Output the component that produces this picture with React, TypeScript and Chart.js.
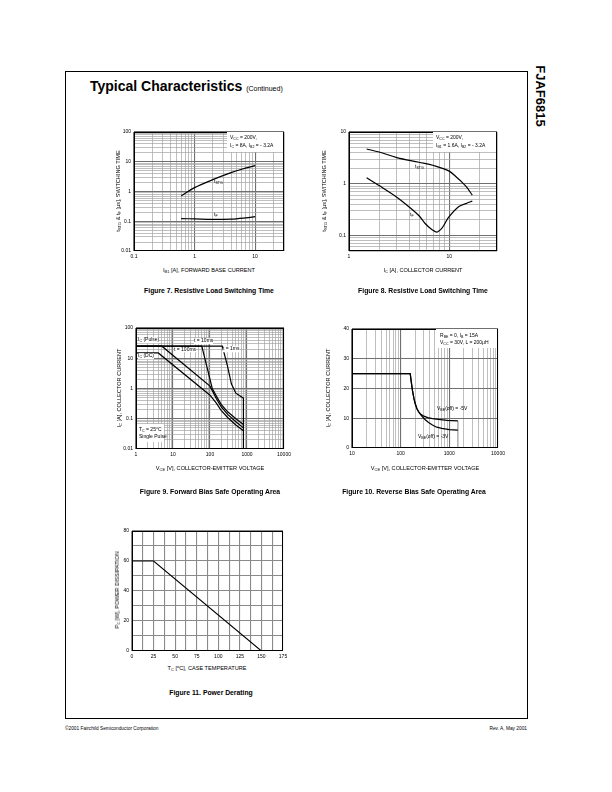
import React, { useEffect, useRef } from "react";
import { Chart, registerables } from "chart.js";
Chart.register(...registerables);

const FONT = '"Liberation Sans", Arial, Helvetica, sans-serif';
const PADL = 22, PADT = 5, PADR = 10, PADB = 12;

// ---------- Figure 7: switching time vs IB1 ----------
const fig7IbStg = [0.6, 1, 2, 4, 6, 10];
const fig7Tstg = [0.72, 1.35, 2.5, 4.3, 5.6, 7.4];
const fig7IbF = [0.6, 1, 2, 4, 7, 10];
const fig7Tf = [0.123, 0.12, 0.115, 0.118, 0.13, 0.142];

// ---------- Figure 8: switching time vs IC ----------
const fig8IcStg = [1.5, 2, 3, 5, 7, 10, 12, 13.4, 15, 17];
const fig8Tstg = [4.7, 4.1, 3.2, 2.6, 2.25, 1.75, 1.3, 1.07, 0.85, 0.6];
const fig8IcF = [1.5, 2, 3, 4.1, 5, 5.75, 6.7, 7.5, 8.5, 9.8, 12.4, 15, 17];
const fig8Tf = [1.3, 0.92, 0.55, 0.34, 0.24, 0.17, 0.13, 0.116, 0.14, 0.22, 0.36, 0.42, 0.46];

// ---------- Figure 9: FBSOA ----------
const fig9V1ms = [1, 215, 295, 380, 500, 800, 800];
const fig9I1ms = [25, 25, 5.7, 1.4, 0.7, 0.48, 0.01];
const fig9V10ms = [1, 60, 115, 150, 200, 300, 500, 800];
const fig9I10ms = [25, 25, 1.0, 0.55, 0.3, 0.17, 0.1, 0.065];
const fig9V100ms = [1, 5, 100, 150, 200, 300, 500, 800];
const fig9I100ms = [25, 25, 1.2, 0.45, 0.25, 0.14, 0.08, 0.05];
const fig9VDc = [1, 4, 100, 150, 200, 300, 500, 800];
const fig9IDc = [15, 15, 0.6, 0.32, 0.19, 0.11, 0.062, 0.04];

// ---------- Figure 10: RBSOA ----------
const fig10V5 = [10, 157, 166, 176, 188, 200, 216, 235, 260, 300, 360, 450, 600, 900, 1500];
const fig10I5 = [25, 25, 22, 19, 16.5, 14.8, 13.2, 12.1, 11.3, 10.7, 10.2, 9.9, 9.6, 9.3, 9.1];
const fig10V3 = [10, 157, 166, 176, 188, 200, 216, 235, 250, 280, 320, 374, 450, 550, 700, 1000, 1500];
const fig10I3 = [25, 25, 22, 19, 16.5, 14.8, 13.2, 12.1, 11.5, 10.5, 9.5, 8.6, 7.7, 7.0, 6.6, 6.2, 6.0];
const fig10VEnd = [1500, 1500];
const fig10IEnd = [9.1, 0];

// ---------- Figure 11: power derating ----------
const fig11Tc = [0, 25, 150];
const fig11Pc = [60, 60, 0];

// ---------- tick labels ----------
const fig7XLabels = [0.1, 1, 10];
const fig7YLabels = [0.01, 0.1, 1, 10, 100];
const fig8XLabels = [1, 10];
const fig8YLabels = [0.1, 1, 10];
const fig9XLabels = [1, 10, 100, 1000, 10000];
const fig9YLabels = [0.01, 0.1, 1, 10, 100];
const fig10XLabels = [10, 100, 1000, 10000];
const fig10YLabels = [0, 10, 20, 30, 40];
const fig11XLabels = [0, 25, 50, 75, 100, 125, 150, 175];
const fig11YLabels = [0, 20, 40, 60, 80];

type Box = { l: number; t: number; w: number; h: number };

const isPow10 = (v: number) => v > 0 && Math.abs(Math.log10(v) - Math.round(Math.log10(v))) < 1e-6;

function logGrid(min: number, max: number): number[] {
  const out: number[] = [];
  const e0 = Math.floor(Math.log10(min) + 1e-9);
  const e1 = Math.ceil(Math.log10(max) - 1e-9);
  for (let e = e0; e <= e1; e++) {
    for (let m = 1; m <= 9; m++) {
      const v = Number((m * Math.pow(10, e)).toPrecision(8));
      if (v >= min * 0.9999 && v <= max * 1.0001) out.push(v);
    }
  }
  return out;
}
function linGrid(min: number, max: number, step: number): number[] {
  const out: number[] = [];
  for (let v = min; v <= max + 1e-9; v += step) out.push(Number(v.toFixed(6)));
  return out;
}
const near = (a: number, b: number) => a === b || Math.abs(a - b) <= 1e-6 * Math.max(Math.abs(a), Math.abs(b));
const fmt = (v: number) => String(Number(v.toPrecision(6)));

function axis(
  pos: "x" | "y",
  type: "logarithmic" | "linear",
  min: number,
  max: number,
  gridVals: number[],
  labels: number[],
  isMajor: (v: number) => boolean,
  majorColor = "#707070",
  minorColor = "#a4a4a4"
) {
  return {
    type,
    min,
    max,
    position: pos === "x" ? "bottom" : "left",
    bounds: "data",
    afterBuildTicks: (s: any) => {
      s.ticks = gridVals.map((v) => ({ value: v }));
    },
    afterFit: (s: any) => {
      if (pos === "x") s.height = PADB;
      else s.width = PADL;
    },
    ticks: {
      autoSkip: false,
      maxRotation: 0,
      minRotation: 0,
      padding: 3,
      color: "#000",
      font: { family: FONT, size: 5 },
      callback: (v: any) => (labels.some((l) => near(l, Number(v))) ? fmt(Number(v)) : ""),
    },
    grid: {
      drawTicks: false,
      color: (c: any) => (c.tick && isMajor(c.tick.value) ? majorColor : minorColor),
      lineWidth: (c: any) => (c.tick && isMajor(c.tick.value) ? 1.1 : 0.7),
    },
    border: { display: false },
  };
}

const framePlugin = {
  id: "frame",
  afterDraw(chart: any) {
    const { ctx, chartArea: a } = chart;
    ctx.save();
    ctx.strokeStyle = "#000";
    ctx.lineWidth = 1;
    ctx.strokeRect(a.left + 0.5, a.top + 0.5, a.width - 1, a.height - 1);
    ctx.restore();
  },
};

const line = (xs: number[], ys: number[], extra: any = {}) => ({
  data: xs.map((x, i) => ({ x, y: ys[i] })),
  showLine: true,
  borderColor: "#000",
  borderWidth: 1.2,
  pointRadius: 0,
  fill: false,
  tension: 0,
  ...extra,
});

function makeConfig(datasets: any[], x: any, y: any) {
  return {
    type: "scatter",
    data: { datasets },
    options: {
      animation: false,
      responsive: false,
      maintainAspectRatio: false,
      devicePixelRatio: 1,
      events: [],
      layout: { padding: { left: 0, top: PADT, right: PADR, bottom: 0 } },
      plugins: { legend: { display: false }, tooltip: { enabled: false } },
      scales: { x, y },
    },
    plugins: [framePlugin],
  } as any;
}

function Plot({ box, build }: { box: Box; build: () => any }) {
  const ref = useRef<HTMLCanvasElement>(null);
  useEffect(() => {
    const chart = new Chart(ref.current as HTMLCanvasElement, build());
    return () => chart.destroy();
  }, []);
  const W = box.w + PADL + PADR;
  const H = box.h + PADT + PADB;
  return (
    <canvas
      ref={ref}
      width={W}
      height={H}
      style={{ position: "absolute", left: box.l - PADL, top: box.t - PADT, width: W, height: H }}
    />
  );
}

const Sub = ({ children }: any) => (
  <sub style={{ fontSize: "0.72em", verticalAlign: "-0.3em", lineHeight: 0 }}>{children}</sub>
);
const Sup = ({ children }: any) => (
  <sup style={{ fontSize: "0.72em", verticalAlign: "0.45em", lineHeight: 0 }}>{children}</sup>
);

function Txt({ x, y, size = 5, bold = false, anchor = "l", rot = 0, bg, children, z = 2 }: any) {
  const tx = anchor === "c" ? "-50%" : anchor === "r" ? "-100%" : "0";
  const transform = rot ? `translate(-50%,-50%) rotate(${rot}deg)` : `translate(${tx},-50%)`;
  return (
    <div
      style={{
        position: "absolute",
        left: x,
        top: y,
        transform,
        fontSize: size,
        fontWeight: bold ? 700 : 400,
        fontFamily: FONT,
        whiteSpace: "nowrap",
        lineHeight: 1.1,
        color: "#000",
        background: bg,
        zIndex: z,
      }}
    >
      {children}
    </div>
  );
}

const Rect = ({ l, t, w, h }: any) => (
  <div style={{ position: "absolute", left: l, top: t, width: w, height: h, background: "#fff", zIndex: 1 }} />
);

const P7: Box = { l: 134, t: 131, w: 150, h: 120 };
const P8: Box = { l: 349, t: 131, w: 148, h: 120 };
const P9: Box = { l: 136, t: 327, w: 148, h: 122 };
const P10: Box = { l: 352, t: 328, w: 146, h: 120 };
const P11: Box = { l: 132, t: 530, w: 151, h: 121 };

export default function App() {
  return (
    <div style={{ position: "absolute", left: 0, top: 0, width: 612, height: 792, background: "#fff", overflow: "hidden" }}>
      {/* page frame */}
      <div style={{ position: "absolute", left: 65, top: 71, width: 461, height: 646, border: "1px solid #000" }} />
      <Txt x={90} y={87} size={14} bold>
        Typical Characteristics <span style={{ fontSize: 7, fontWeight: 400 }}>(Continued)</span>
      </Txt>
      <Txt x={540} y={96} size={13} bold rot={90}>FJAF6815</Txt>

      {/* Figure 7 */}
      <Plot
        box={P7}
        build={() =>
          makeConfig(
            [line(fig7IbStg, fig7Tstg, { tension: 0.35 }), line(fig7IbF, fig7Tf, { tension: 0.35 })],
            axis("x", "logarithmic", 0.1, 30, logGrid(0.1, 30), fig7XLabels, isPow10),
            axis("y", "logarithmic", 0.01, 100, logGrid(0.01, 100), fig7YLabels, isPow10)
          )
        }
      />
      <Rect l={227} t={132} w={56} h={20} />
      <Txt x={230} y={138}>V<Sub>CC</Sub> = 200V,</Txt>
      <Txt x={230} y={146}>I<Sub>C</Sub> = 8A, I<Sub>B2</Sub> = - 3.2A</Txt>
      <Txt x={214} y={182}>t<Sub>STG</Sub></Txt>
      <Txt x={214} y={215}>t<Sub>F</Sub></Txt>
      <Txt x={118} y={191} size={5.6} rot={-90}>t<Sub>STG</Sub> &amp; t<Sub>F</Sub> [μs], SWITCHING TIME</Txt>
      <Txt x={209} y={270} size={5.6} anchor="c">I<Sub>B1</Sub> [A], FORWARD BASE CURRENT</Txt>
      <Txt x={209} y={291} size={6.8} bold anchor="c">Figure 7. Resistive Load Switching Time</Txt>

      {/* Figure 8 */}
      <Plot
        box={P8}
        build={() =>
          makeConfig(
            [line(fig8IcStg, fig8Tstg, { tension: 0.35 }), line(fig8IcF, fig8Tf, { tension: 0.3 })],
            axis("x", "logarithmic", 1, 30, logGrid(1, 30), fig8XLabels, isPow10),
            axis("y", "logarithmic", 0.05, 10, logGrid(0.05, 10), fig8YLabels, isPow10)
          )
        }
      />
      <Rect l={433} t={132} w={63} h={20} />
      <Txt x={436} y={138}>V<Sub>CC</Sub> = 200V,</Txt>
      <Txt x={436} y={146}>I<Sub>B1</Sub> = 1.6A, I<Sub>B2</Sub> = - 3.2A</Txt>
      <Txt x={415} y={167}>t<Sub>STG</Sub></Txt>
      <Txt x={410} y={215}>t<Sub>F</Sub></Txt>
      <Txt x={324} y={191} size={5.6} rot={-90}>t<Sub>STG</Sub> &amp; t<Sub>F</Sub> [μs], SWITCHING TIME</Txt>
      <Txt x={423} y={270} size={5.6} anchor="c">I<Sub>C</Sub> [A], COLLECTOR CURRENT</Txt>
      <Txt x={423} y={291} size={6.8} bold anchor="c">Figure 8. Resistive Load Switching Time</Txt>

      {/* Figure 9 */}
      <Plot
        box={P9}
        build={() =>
          makeConfig(
            [
              line(fig9V1ms, fig9I1ms),
              line(fig9V10ms, fig9I10ms),
              line(fig9V100ms, fig9I100ms),
              line(fig9VDc, fig9IDc),
            ],
            axis("x", "logarithmic", 1, 10000, logGrid(1, 10000), fig9XLabels, isPow10),
            axis("y", "logarithmic", 0.01, 100, logGrid(0.01, 100), fig9YLabels, isPow10)
          )
        }
      />
      <Txt x={138} y={340} bg="#fff">I<Sub>C</Sub> (Pulse)</Txt>
      <Txt x={138} y={356} bg="#fff">I<Sub>C</Sub> (DC)</Txt>
      <Txt x={194} y={341} bg="#fff">t = 10ms</Txt>
      <Txt x={174} y={349.5} bg="#fff">t = 100ms</Txt>
      <Txt x={223} y={349} bg="#fff">t = 1ms</Txt>
      <Rect l={137} t={424} w={27} h={18} />
      <Txt x={139} y={430}>T<Sub>C</Sub> = 25°C</Txt>
      <Txt x={139} y={437}>Single Pulse</Txt>
      <Txt x={119} y={388} size={5.6} rot={-90}>I<Sub>C</Sub> [A], COLLECTOR CURRENT</Txt>
      <Txt x={210} y={468} size={5.6} anchor="c">V<Sub>CE</Sub> [V], COLLECTOR-EMITTER VOLTAGE</Txt>
      <Txt x={210} y={492} size={6.8} bold anchor="c">Figure 9. Forward Bias Safe Operating Area</Txt>

      {/* Figure 10 */}
      <Plot
        box={P10}
        build={() =>
          makeConfig(
            [
              line(fig10V5, fig10I5),
              line(fig10V3, fig10I3),
              line(fig10VEnd, fig10IEnd, { borderColor: "#999" }),
            ],
            axis("x", "logarithmic", 10, 10000, logGrid(10, 10000), fig10XLabels, isPow10),
            axis("y", "linear", 0, 40, linGrid(0, 40, 10), fig10YLabels, () => true)
          )
        }
      />
      <Rect l={436} t={329} w={61} h={19} />
      <Txt x={440} y={336}>R<Sub>BE</Sub> = 0, I<Sub>B</Sub> = 15A</Txt>
      <Txt x={440} y={343}>V<Sub>CC</Sub> = 30V, L = 200μH</Txt>
      <Txt x={437} y={409}>V<Sub>BE</Sub>(off) = -5V</Txt>
      <Txt x={418} y={437}>V<Sub>BE</Sub>(off) = -3V</Txt>
      <Txt x={328} y={388} size={5.6} rot={-90}>I<Sub>C</Sub> [A], COLLECTOR CURRENT</Txt>
      <Txt x={425} y={468} size={5.6} anchor="c">V<Sub>CE</Sub> [V], COLLECTOR-EMITTER VOLTAGE</Txt>
      <Txt x={414} y={492} size={6.8} bold anchor="c">Figure 10. Reverse Bias Safe Operating Area</Txt>

      {/* Figure 11 */}
      <Plot
        box={P11}
        build={() =>
          makeConfig(
            [line(fig11Tc, fig11Pc, { borderWidth: 1.1 })],
            axis("x", "linear", 0, 175, linGrid(0, 175, 12.5), fig11XLabels, () => true, "#8a8a8a"),
            axis("y", "linear", 0, 80, linGrid(0, 80, 10), fig11YLabels, () => true, "#8a8a8a")
          )
        }
      />
      <Txt x={117} y={590} size={5.6} rot={-90}>P<Sub>C</Sub> [W], POWER DISSIPATION</Txt>
      <Txt x={207} y={668} size={5.6} anchor="c">T<Sub>C</Sub> [<Sup>o</Sup>C], CASE TEMPERATURE</Txt>
      <Txt x={211} y={693} size={6.8} bold anchor="c">Figure 11. Power Derating</Txt>

      {/* footer */}
      <Txt x={65} y={729} size={4.8}>©2001 Fairchild Semiconductor Corporation</Txt>
      <Txt x={527} y={729} size={4.8} anchor="r">Rev. A, May 2001</Txt>
    </div>
  );
}
